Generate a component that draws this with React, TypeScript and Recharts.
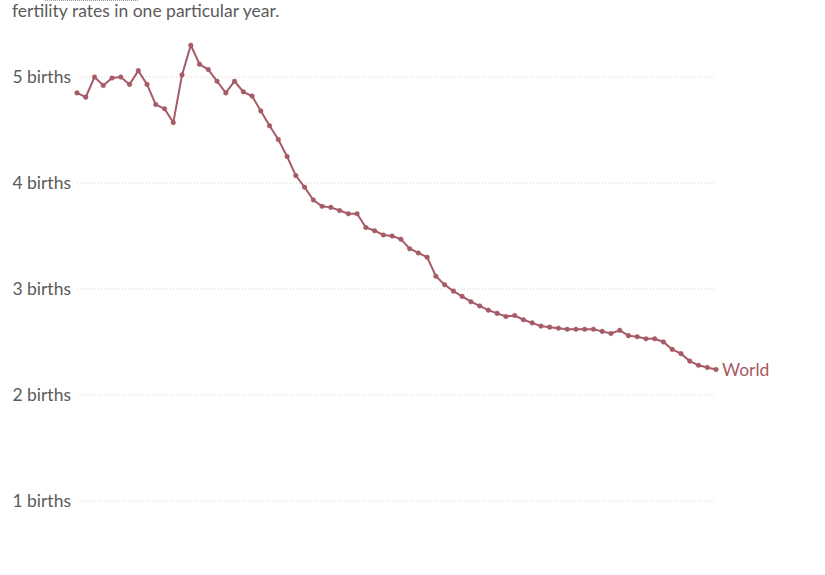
import { LabelList, Line, LineChart, ReferenceLine, XAxis, YAxis } from "recharts";

const years: number[] = Array.from({ length: 74 }, (_, i) => 1950 + i);

const fertility: number[] = [
  4.85, 4.81, 5.0, 4.92, 4.99, 5.0, 4.93, 5.06, 4.93, 4.74,
  4.7, 4.57, 5.02, 5.3, 5.12, 5.07, 4.96, 4.85, 4.96, 4.86,
  4.82, 4.68, 4.54, 4.41, 4.25, 4.07, 3.96, 3.84, 3.78, 3.77,
  3.74, 3.71, 3.71, 3.58, 3.55, 3.51, 3.5, 3.47, 3.38, 3.34,
  3.3, 3.12, 3.04, 2.98, 2.93, 2.88, 2.84, 2.8, 2.77, 2.74,
  2.75, 2.71, 2.68, 2.65, 2.64, 2.63, 2.62, 2.62, 2.62, 2.62,
  2.6, 2.58, 2.61, 2.56, 2.55, 2.53, 2.53, 2.5, 2.43, 2.39,
  2.32, 2.28, 2.26, 2.24,
];

const yTicks: number[] = [1, 2, 3, 4, 5];

const data = years.map((year, i) => ({ year, value: fertility[i] }));

const lineColor = "#a55a65";
const textColor = "#5b5b5b";
const font = "Lato, 'Noto Sans', sans-serif";

function WorldLabel(props: any) {
  const { x, y, index } = props;
  if (index !== data.length - 1) return null;
  return (
    <text x={x + 6} y={y + 6} fill={lineColor} fontSize={17.5} fontFamily={font}>
      World
    </text>
  );
}

export default function App() {
  return (
    <div style={{ position: "absolute", left: 0, top: 0, width: 825, height: 575, background: "#fff", fontFamily: font }}>
      <div style={{ position: "absolute", left: 45, top: 0, width: 93, borderBottom: "1px dotted #999" }} />
      <div style={{ position: "absolute", left: 12, top: 0, fontSize: 17.5, color: textColor, lineHeight: "22px" }}>
        fertility rates in one particular year.
      </div>
      <LineChart width={825} height={575} data={data} margin={{ top: 24, right: 109, left: 0, bottom: 21 }}>
        <XAxis dataKey="year" type="number" domain={[1950, 2023]} hide />
        <YAxis
          type="number"
          domain={[0.5, 5.5]}
          ticks={yTicks}
          width={77}
          axisLine={false}
          tickLine={false}
          tickMargin={0}
          tickFormatter={(v: number) => `${v} births`}
          tick={{ fill: textColor, fontSize: 17.5, fontFamily: font }}
        />
        {yTicks.map((t) => (
          <ReferenceLine key={t} y={t} stroke="#d4d4d4" strokeDasharray="1 2" />
        ))}
        <Line
          dataKey="value"
          stroke={lineColor}
          strokeWidth={2}
          dot={{ r: 2.3, fill: lineColor, stroke: lineColor, strokeWidth: 0.5 }}
          isAnimationActive={false}
        >
          <LabelList dataKey="value" content={WorldLabel} />
        </Line>
      </LineChart>
    </div>
  );
}
